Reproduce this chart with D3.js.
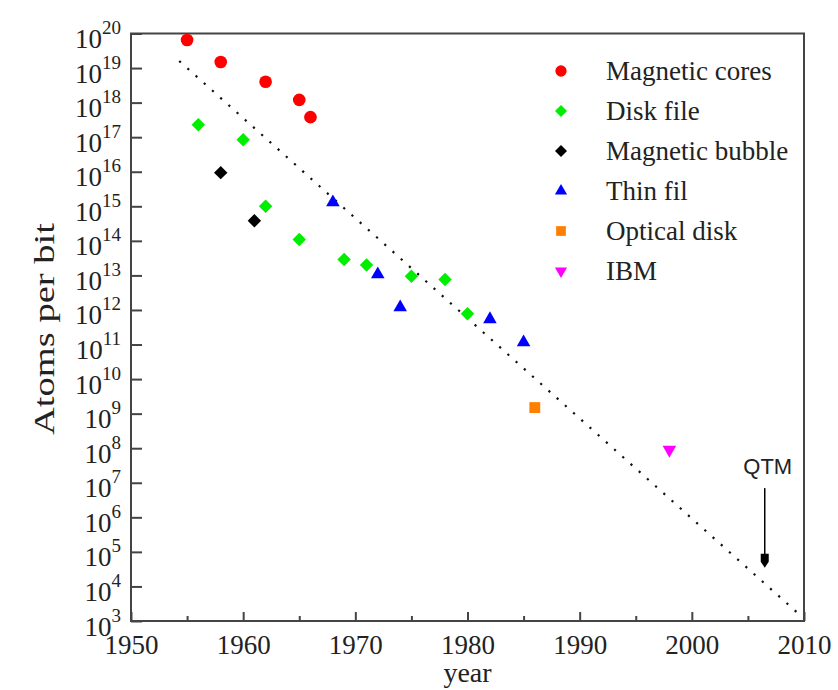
<!DOCTYPE html>
<html>
<head>
<meta charset="utf-8">
<script src="https://cdn.jsdelivr.net/npm/d3@7"></script>
<style>
  body { margin: 0; background: #fff; }
  svg { display: block; }
  text { font-family: "Liberation Serif", "Times New Roman", serif; fill: #222; }
</style>
</head>
<body>
<div id="chart"></div>
<script>
// data
var seriesNames = ['Magnetic cores', 'Disk file', 'Magnetic bubble', 'Thin fil', 'Optical disk', 'IBM'];

var magneticCores = [[1955, 6.5e19], [1958, 1.5e19], [1962, 4e18], [1965, 1.2e18], [1966, 3.8e17]];
var diskFile = [[1956, 2.3e17], [1960, 8.4e16], [1962, 1e15], [1965, 1.1e14], [1969, 2.9e13],
                [1971, 2e13], [1975, 9.5e12], [1978, 7.6e12], [1980, 7.8e11]];
var magneticBubble = [[1958, 9.4e15], [1961, 3.8e14]];
var thinFil = [[1968, 1.3e15], [1972, 1.07e13], [1974, 1.2e12], [1982, 5.4e11], [1985, 1.15e11]];
var opticalDisk = [[1986, 1.5e9]];
var ibm = [[1998, 9e7]];

var trendYears = [1954.3, 2009.4];
var trendAtoms = [1.6e19, 1.75e3];

var qtmYear = 2006.5;
var qtmAtoms = [7e6, 3.5e4];

var xTicks = [1950, 1960, 1970, 1980, 1990, 2000, 2010];
var xMinorTicks = [1955, 1965, 1975, 1985, 1995, 2005];
var yExponents = d3.range(3, 21);

var serif = '"Liberation Serif", "Times New Roman", serif';

// styles, one per series
var markerStyles = [
  { type: d3.symbolCircle, size: 125, color: '#ff0000', rotate: 0 },
  { type: d3.symbolSquare, size: 90, color: '#00ee00', rotate: 45 },
  { type: d3.symbolSquare, size: 90, color: '#000000', rotate: 45 },
  { type: d3.symbolTriangle, size: 80, color: '#0000ff', rotate: 0 },
  { type: d3.symbolSquare, size: 118, color: '#ff8000', rotate: 0 },
  { type: d3.symbolTriangle, size: 80, color: '#ff00ff', rotate: 180 }
];
var allSeries = [magneticCores, diskFile, magneticBubble, thinFil, opticalDisk, ibm];

var width = 838, height = 690;
var svg = d3.select('#chart').append('svg')
  .attr('width', width)
  .attr('height', height);

var x = d3.scaleLinear().domain([1950, 2010]).range([131, 804]);
var y = d3.scaleLog().domain([1e3, 1e20]).range([621, 33.5]);

// y axis, ticks pointing in
var yAxis = d3.axisLeft(y)
  .tickValues(yExponents.map(function (e) { return Math.pow(10, e); }))
  .tickSizeInner(-11)
  .tickSizeOuter(0)
  .tickPadding(10);

var yg = svg.append('g')
  .attr('transform', 'translate(' + x.range()[0] + ',0)')
  .call(yAxis)
  .attr('font-family', serif)
  .attr('font-size', null);
yg.select('.domain').remove();
yg.selectAll('.tick line').attr('stroke', '#444').attr('stroke-width', 2);
yg.selectAll('.tick text')
  .attr('fill', '#222')
  .style('font-family', serif)
  .style('font-size', '27px')
  .attr('dy', 14)
  .each(function (d) {
    var t = d3.select(this);
    t.text('10');
    t.append('tspan')
      .attr('dy', -14)
      .style('font-size', '19px')
      .text(Math.round(Math.log10(d)));
  });

// x axis, major and minor ticks
var xAxis = d3.axisBottom(x)
  .tickValues(xTicks)
  .tickFormat(d3.format('d'))
  .tickSizeInner(-9)
  .tickSizeOuter(0)
  .tickPadding(14);

var xg = svg.append('g')
  .attr('transform', 'translate(0,' + y.range()[0] + ')')
  .call(xAxis)
  .attr('font-family', serif)
  .attr('font-size', null);
xg.select('.domain').remove();
xg.selectAll('.tick line').attr('stroke', '#444').attr('stroke-width', 2);
xg.selectAll('.tick text')
  .attr('fill', '#222')
  .style('font-family', serif)
  .style('font-size', '27px');

var xMinor = svg.append('g')
  .attr('transform', 'translate(0,' + y.range()[0] + ')')
  .call(d3.axisBottom(x).tickValues(xMinorTicks).tickFormat('').tickSizeInner(-5).tickSizeOuter(0));
xMinor.select('.domain').remove();
xMinor.selectAll('.tick line').attr('stroke', '#444').attr('stroke-width', 2);

// frame
svg.append('rect')
  .attr('x', x.range()[0])
  .attr('y', y.range()[1])
  .attr('width', x.range()[1] - x.range()[0])
  .attr('height', y.range()[0] - y.range()[1])
  .attr('fill', 'none')
  .attr('stroke', '#444')
  .attr('stroke-width', 2);

// axis titles
svg.append('text')
  .attr('x', (x.range()[0] + x.range()[1]) / 2)
  .attr('y', 682)
  .attr('text-anchor', 'middle')
  .style('font-size', '28px')
  .text('year');

svg.append('text')
  .attr('transform', 'translate(54,329) rotate(-90)')
  .attr('text-anchor', 'middle')
  .attr('textLength', 212)
  .attr('lengthAdjust', 'spacingAndGlyphs')
  .style('font-size', '30px')
  .text('Atoms per bit');

// dotted trend line
svg.append('line')
  .attr('x1', x(trendYears[0]))
  .attr('y1', y(trendAtoms[0]))
  .attr('x2', x(trendYears[1]))
  .attr('y2', y(trendAtoms[1]))
  .attr('stroke', '#111')
  .attr('stroke-width', 2.2)
  .attr('stroke-dasharray', '2.2,8.8');

// QTM arrow
var qx = x(qtmYear);
var tipY = y(qtmAtoms[1]);
svg.append('line')
  .attr('x1', qx).attr('y1', y(qtmAtoms[0]))
  .attr('x2', qx).attr('y2', tipY - 10)
  .attr('stroke', '#000')
  .attr('stroke-width', 1.5);
svg.append('path')
  .attr('d', 'M' + (qx - 4) + ',' + (tipY - 14) +
             'L' + (qx + 4) + ',' + (tipY - 14) +
             'L' + (qx + 4) + ',' + (tipY - 6) +
             'L' + qx + ',' + tipY +
             'L' + (qx - 4) + ',' + (tipY - 6) + 'Z')
  .attr('fill', '#000');
svg.append('text')
  .attr('x', qx + 3)
  .attr('y', y(qtmAtoms[0]) - 14)
  .attr('text-anchor', 'middle')
  .style('font-family', '"Liberation Sans", Arial, sans-serif')
  .style('font-size', '22px')
  .attr('fill', '#333')
  .text('QTM');

// data markers
allSeries.forEach(function (pts, i) {
  var st = markerStyles[i];
  svg.append('g').selectAll('path')
    .data(pts)
    .enter().append('path')
    .attr('d', d3.symbol().type(st.type).size(st.size))
    .attr('transform', function (d) {
      return 'translate(' + x(d[0]) + ',' + y(d[1]) + ') rotate(' + st.rotate + ')';
    })
    .attr('fill', st.color);
});

// legend
var legend = svg.append('g').attr('transform', 'translate(561,71)');
var rows = legend.selectAll('g')
  .data(seriesNames)
  .enter().append('g')
  .attr('transform', function (d, i) { return 'translate(0,' + (i * 40) + ')'; });

rows.append('path')
  .attr('d', function (d, i) {
    return d3.symbol().type(markerStyles[i].type).size(markerStyles[i].size * 0.8)();
  })
  .attr('transform', function (d, i) { return 'rotate(' + markerStyles[i].rotate + ')'; })
  .attr('fill', function (d, i) { return markerStyles[i].color; });

rows.append('text')
  .attr('x', 45)
  .attr('dy', '0.33em')
  .style('font-size', '27px')
  .text(function (d) { return d; });
</script>
</body>
</html>
